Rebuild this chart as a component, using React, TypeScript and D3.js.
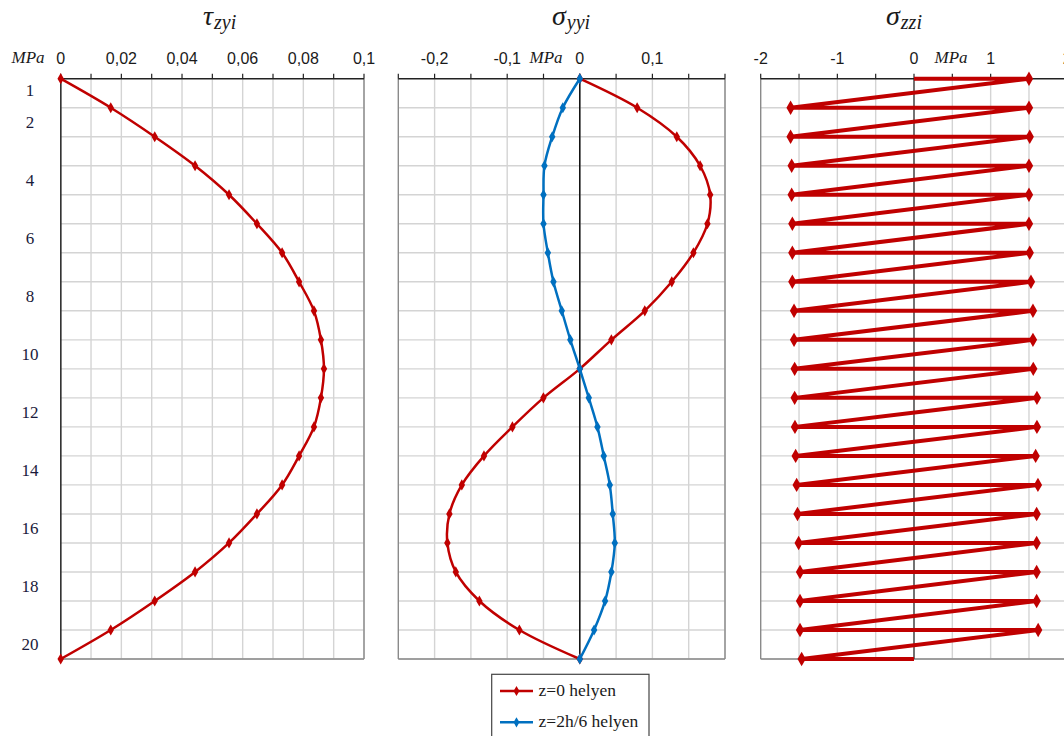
import React from "react";
import * as d3 from "d3";

// ---- data ----
const ROWS = [0, 1, 2, 3, 4, 5, 6, 7, 8, 9, 10, 11, 12, 13, 14, 15, 16, 17, 18, 19, 20];
const ROW_LABELS = [1, 2, 4, 6, 8, 10, 12, 14, 16, 18, 20];

const TAU_TICKS = [0, 0.02, 0.04, 0.06, 0.08, 0.1];
const TAU = [0, 0.0165, 0.031, 0.0443, 0.0555, 0.0647, 0.073, 0.0786, 0.0835, 0.0858, 0.0868,
  0.0858, 0.0835, 0.0786, 0.073, 0.0647, 0.0555, 0.0443, 0.031, 0.0165, 0];

const SYY_TICKS = [-0.2, -0.1, 0, 0.1];
const SYY_Z0 = [0, 0.079, 0.1336, 0.1657, 0.1796, 0.1758, 0.1565, 0.1267, 0.0895, 0.0435, 0,
  -0.0501, -0.0928, -0.132, -0.1625, -0.1796, -0.1824, -0.1708, -0.1383, -0.0832, 0];
const SYY_Z2 = [0, -0.0234, -0.038, -0.0487, -0.05, -0.05, -0.044, -0.0363, -0.0248, -0.013, 0,
  0.0124, 0.0243, 0.033, 0.0413, 0.0454, 0.0482, 0.0435, 0.0348, 0.0197, 0];

const SZZ_TICKS = [-2, -1, 0, 1, 2];
const SZZ_LEFT = [0, -1.61, -1.61, -1.596, -1.596, -1.587, -1.587, -1.587, -1.565, -1.565, -1.557,
  -1.557, -1.553, -1.544, -1.531, -1.52, -1.505, -1.487, -1.487, -1.487, -1.466];
const SZZ_RIGHT = [1.5, 1.5, 1.51, 1.5, 1.5, 1.5, 1.51, 1.526, 1.552, 1.552, 1.556,
  1.604, 1.604, 1.587, 1.617, 1.6, 1.6, 1.6, 1.6, 1.62, 0];

const LEGEND = ["z=0 helyen", "z=2h/6 helyen"];

const RED = "#C00000";
const BLUE = "#0070C0";
const GRID = "#d4d4d4";
const BORDER = "#8a8a8a";
const SANS = "'Liberation Sans', Arial, sans-serif";
const SERIF = "'Liberation Serif', 'DejaVu Serif', serif";

const Y_TOP = 78.7;
const Y_BOT = 659;
const y = d3.scaleLinear().domain([0, 20]).range([Y_TOP, Y_BOT]);

const diamond = (s: number) => d3.symbol().type(d3.symbolDiamond).size(s)() as string;

type PanelProps = {
  x: d3.ScaleLinear<number, number>;
  gridStep: number;
  ticks: number[];
  fmt: (v: number) => string;
  zeroColor: string;
  leftAxisDark?: boolean;
};

function fmtComma(v: number) {
  return String(+v.toFixed(3)).replace(".", ",");
}

function Frame({ x, gridStep, ticks, fmt, zeroColor, leftAxisDark }: PanelProps) {
  const [d0, d1] = x.domain();
  const n = Math.round((d1 - d0) / gridStep);
  const gx = d3.range(n + 1).map((i) => d0 + i * gridStep);
  return (
    <g>
      {ROWS.slice(1).map((r) => (
        <line key={"h" + r} x1={x(d0)} x2={x(d1)} y1={y(r)} y2={y(r)} stroke={GRID} strokeWidth={1.4} />
      ))}
      {gx.slice(1).map((v, i) => (
        <line key={"v" + i} x1={x(v)} x2={x(v)} y1={Y_TOP} y2={Y_BOT} stroke={GRID} strokeWidth={1.4} />
      ))}
      <line x1={x(d0)} x2={x(d1)} y1={Y_BOT} y2={Y_BOT} stroke={BORDER} strokeWidth={1.4} />
      <line x1={x(d1)} x2={x(d1)} y1={Y_TOP} y2={Y_BOT} stroke={BORDER} strokeWidth={1.4} />
      <line x1={x(d0)} x2={x(d0)} y1={Y_TOP} y2={Y_BOT} stroke={leftAxisDark ? "#333" : BORDER} strokeWidth={1.4} />
      <line x1={x(0)} x2={x(0)} y1={Y_TOP} y2={Y_BOT} stroke={zeroColor} strokeWidth={1.4} />
      <line x1={x(d0)} x2={x(d1)} y1={Y_TOP} y2={Y_TOP} stroke="#222" strokeWidth={1.4} />
      {gx.map((v, i) => (
        <line key={"t" + i} x1={x(v)} x2={x(v)} y1={Y_TOP - 5} y2={Y_TOP} stroke="#222" strokeWidth={1.2} />
      ))}
      {ticks.map((v) => (
        <text key={"l" + v} x={x(v)} y={64} textAnchor="middle" fontFamily={SANS} fontSize={16} fill="#1a1a1a">
          {fmt(v)}
        </text>
      ))}
    </g>
  );
}

function Title({ x0, sym, sub }: { x0: number; sym: string; sub: string }) {
  return (
    <text x={x0} y={25} fontFamily={SERIF} fontStyle="italic" fontSize={28} fill="#1a1a1a">
      {sym}
      <tspan fontSize={20} dx={1} dy={4}>{sub}</tspan>
    </text>
  );
}

export default function App() {
  const x1 = d3.scaleLinear().domain([0, 0.1]).range([60.7, 364]);
  const x2 = d3.scaleLinear().domain([-0.25, 0.2]).range([398.3, 725]);
  const x3 = d3.scaleLinear().domain([-2, 2]).range([760.7, 1067.3]);

  const smooth = (xs: d3.ScaleLinear<number, number>, vals: number[]) =>
    d3.line<number>().x((v) => xs(v)).y((_, i) => y(i)).curve(d3.curveCatmullRom.alpha(0.5))(vals) as string;

  const zz: [number, number][] = [];
  ROWS.forEach((r) => {
    zz.push([SZZ_LEFT[r], r]);
    zz.push([SZZ_RIGHT[r], r]);
  });
  const zzPath = d3.line<[number, number]>().x((d) => x3(d[0])).y((d) => y(d[1]))(zz) as string;

  const markers = (xs: d3.ScaleLinear<number, number>, vals: number[], color: string, size: number) =>
    vals.map((v, i) => (
      <path key={i} d={diamond(size)} transform={`translate(${xs(v)},${y(i)})`} fill={color} />
    ));

  return (
    <svg width={1064} height={736} style={{ position: "absolute", left: 0, top: 0, background: "#fff" }}>
      <rect x={0} y={0} width={1064} height={736} fill="#fff" />
      <Title x0={203} sym="τ" sub="zyi" />
      <Title x0={552} sym="σ" sub="yyi" />
      <Title x0={886} sym="σ" sub="zzi" />

      {/* Panel 1 */}
      <Frame x={x1} gridStep={0.01} ticks={TAU_TICKS} fmt={fmtComma} zeroColor="#333" leftAxisDark />
      <text x={28} y={63} textAnchor="middle" fontFamily={SERIF} fontStyle="italic" fontSize={17} fill="#1a1a1a">MPa</text>
      {ROW_LABELS.map((k) => (
        <text key={k} x={30} y={y(k - 0.5) - (k === 1 ? 3 : 0)} dy="0.35em" textAnchor="middle" fontFamily={SERIF} fontSize={17} fill="#1a1a3a">
          {k}
        </text>
      ))}
      <path d={smooth(x1, TAU)} fill="none" stroke={RED} strokeWidth={2.5} />
      {markers(x1, TAU, RED, 36)}

      {/* Panel 2 */}
      <Frame x={x2} gridStep={0.05} ticks={SYY_TICKS} fmt={fmtComma} zeroColor="#000" />
      <text x={546} y={63} textAnchor="middle" fontFamily={SERIF} fontStyle="italic" fontSize={17} fill="#1a1a1a">MPa</text>
      <path d={smooth(x2, SYY_Z0)} fill="none" stroke={RED} strokeWidth={2.5} />
      {markers(x2, SYY_Z0, RED, 36)}
      <path d={smooth(x2, SYY_Z2)} fill="none" stroke={BLUE} strokeWidth={2.5} />
      {markers(x2, SYY_Z2, BLUE, 36)}

      {/* Panel 3 */}
      <Frame x={x3} gridStep={0.5} ticks={SZZ_TICKS} fmt={(v) => String(v)} zeroColor="#444" />
      <text x={951} y={63} textAnchor="middle" fontFamily={SERIF} fontStyle="italic" fontSize={17} fill="#1a1a1a">MPa</text>
      <path d={zzPath} fill="none" stroke={RED} strokeWidth={4} strokeLinejoin="miter" />
      {zz.filter((d) => d[0] !== 0).map((d, i) => (
        <path key={i} d={diamond(60)} transform={`translate(${x3(d[0])},${y(d[1])})`} fill={RED} />
      ))}

      {/* Legend */}
      <rect x={491.7} y={674.3} width={157.3} height={80} fill="#fff" stroke="#444" strokeWidth={1.2} />
      {LEGEND.map((t, i) => {
        const ly = 691 + i * 31.3;
        const c = i === 0 ? RED : BLUE;
        return (
          <g key={t}>
            <line x1={500} x2={533} y1={ly} y2={ly} stroke={c} strokeWidth={2.5} />
            <path d={diamond(30)} transform={`translate(${516.5},${ly})`} fill={c} />
            <text x={538.5} y={ly + 5} fontFamily={SERIF} fontSize={17.5} fill="#1a1a1a">{t}</text>
          </g>
        );
      })}
    </svg>
  );
}
